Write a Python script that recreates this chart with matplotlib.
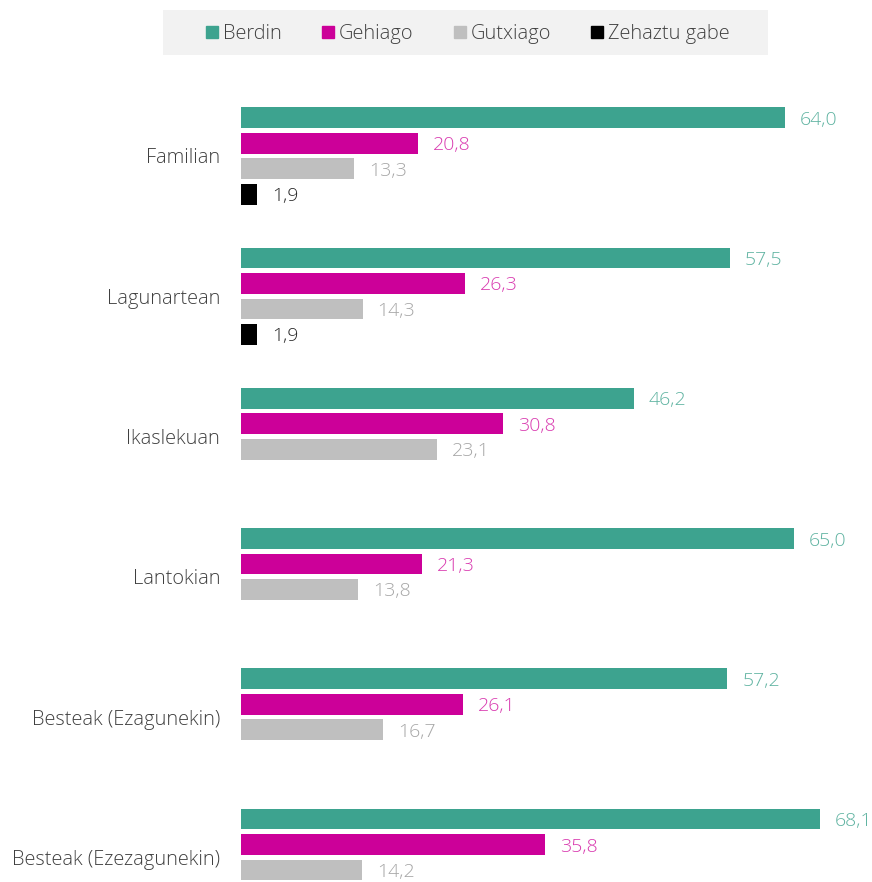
import matplotlib
matplotlib.use("Agg")
import matplotlib.pyplot as plt
from matplotlib.lines import Line2D
from matplotlib.patches import Rectangle
import numpy as np

plt.rcParams['font.family'] = ['Open Sans', 'DejaVu Sans']
plt.rcParams['font.weight'] = 'light'

categories = ['Familian', 'Lagunartean', 'Ikaslekuan', 'Lantokian',
              'Besteak (Ezagunekin)', 'Besteak (Ezezagunekin)']
series = ['Berdin', 'Gehiago', 'Gutxiago', 'Zehaztu gabe']
berdin = [64.0, 57.5, 46.2, 65.0, 57.2, 68.1]
gehiago = [20.8, 26.3, 30.8, 21.3, 26.1, 35.8]
gutxiago = [13.3, 14.3, 23.1, 13.8, 16.7, 14.2]
zehaztu = [1.9, 1.9, None, None, None, None]

bar_colors = ['#3da38f', '#cc0099', '#bfbfbf', '#000000']
text_colors = ['#5fb3a1', '#d93bb0', '#a6a6a6', '#262626']

W, H = 872, 882
fig = plt.figure(figsize=(W / 100, H / 100), dpi=100)
ax_top = 70
ax = fig.add_axes([241 / W, 0, 1 - 241 / W, 1 - ax_top / H])

px_unit = 25.5
group_gap = 5.5
offsets = [-1.5, -0.5, 0.5, 1.5]
centers = np.arange(len(categories)) * group_gap

for s, vals in enumerate([berdin, gehiago, gutxiago, zehaztu]):
    for g, v in enumerate(vals):
        if v is None:
            continue
        y = centers[g] + offsets[s]
        ax.barh(y, v, height=0.82, color=bar_colors[s])
        ax.text(v + 15 / 8.5, y, f'{v:.1f}'.replace('.', ','),
                va='center_baseline', ha='left', fontsize=14,
                color=text_colors[s])

ax.set_xlim(0, (W - 241) / 8.5)
ax.set_ylim((H - 156) / px_unit, -(156 - ax_top) / px_unit)
ax.set_yticks(centers)
ax.set_yticklabels(categories, fontsize=14.4, color='#404040')
ax.tick_params(axis='y', length=0, pad=15)
ax.set_xticks([])
for sp in ax.spines.values():
    sp.set_visible(False)

# legend box
fig.patches.append(Rectangle((163 / W, 1 - 55 / H), (768 - 163) / W, 45 / H,
                             transform=fig.transFigure, facecolor='#f2f2f2',
                             edgecolor='none', zorder=0))
handles = [Line2D([], [], marker='s', linestyle='none', markersize=8.5,
                  color=c) for c in bar_colors]
fig.legend(handles, series, loc='center', bbox_to_anchor=(466 / W, 1 - 34 / H),
           ncol=4, frameon=False, fontsize=14.4, handletextpad=0.05,
           columnspacing=1.8, handlelength=1.0, labelcolor='#404040')

fig.savefig('out.png', dpi=100)
